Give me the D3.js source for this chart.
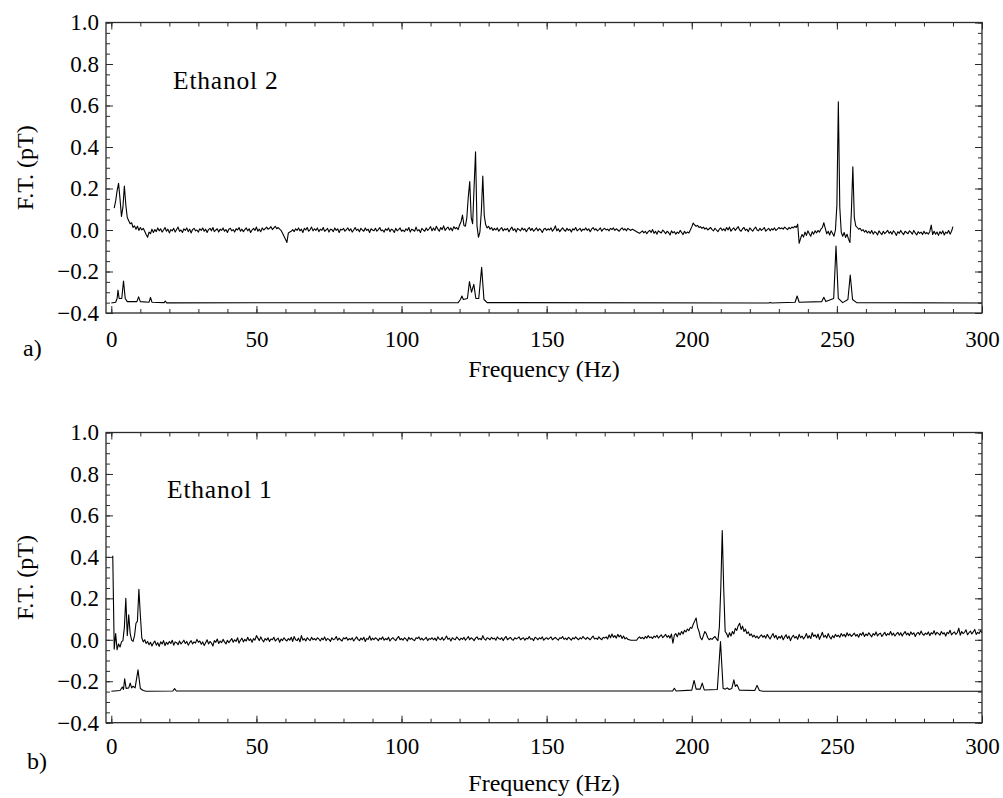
<!DOCTYPE html>
<html>
<head>
<meta charset="utf-8">
<script src="https://cdn.jsdelivr.net/npm/d3@7"></script>
<style>
  body { margin: 0; background: #fff; }
  svg { display: block; }
  text { font-family: "Liberation Serif", "Times New Roman", serif; fill: #000; }
</style>
</head>
<body>
<svg id="chart" width="1003" height="798"></svg>
<script>
// ---------------------------------------------------------------------------
// Spectra. Measured traces are in fT on a uniform frequency grid
// (start, 0.5 Hz step, one 10 Hz block per line); simulated traces are
// (frequency, pT) pairs.
// ---------------------------------------------------------------------------

// Ethanol 2, measured, 1.0 Hz .. 290.0 Hz
const ethanol2Start = 1.0;
const ethanol2Step = 0.5;
const ethanol2Measured_fT = [
  105, 140, 190, 225, 150, 65, 110, 212, 120, 60, 45, 30, 35, 12, 20, 4, 18, -2, 12, 0,
  8, -6, -22, -35, -10, -18, 4, -12, 2, -8, 10, -4, 6, -10, 0, 12, -6, 4, -14, 2,
  -4, 8, -10, 2, 14, -6, 0, -12, 6, -2, 10, -8, 4, -14, 2, 8, -4, 0, -10, 6,
  -2, 10, -6, 4, -12, 2, 8, -4, 12, -8, 0, 6, -10, 4, -2, 10, -6, 2, -12, 4,
  8, -4, 2, -10, 6, 0, 12, -6, 4, -8, 2, 10, -4, 6, -12, 0, 8, -2, 14, -6,
  4, -8, 10, 0, 6, 14, 4, 8, 16, 2, 10, 18, 6, 12, 4, -2, -16, -30, -44, -60,
  -14, -10, -6, 2, -8, 6, -2, 10, -4, 4, -12, 8, 0, 12, -6, 2, 14, -4, 6, -2,
  10, -8, 4, -2, 12, -6, 0, 8, -10, 4, 2, -8, 10, -2, 6, -12, 4, 0, 8, -6,
  2, 10, -4, 6, -10, 0, 12, -2, 4, -8, 8, 0, -6, 10, -2, 4, -12, 6, 0, -4,
  8, -6, 2, 12, -4, 0, -10, 6, -2, 10, -8, 4, 0, -12, 8, -4, 2, 10, -6, 0,
  -8, 6, -2, 12, -10, 4, 0, -6, 14, -4, 2, -12, 8, 0, -6, 10, -2, 6, 16, -4,
  10, -2, 18, 4, -6, 12, 2, 20, -2, 8, 14, 0, 10, -4, 16, 6, 12, 2, 24, 40,
  72, 22, 18, 60, 160, 233, 60, 30, 210, 377, 20, -35, -10, 90, 260, 70, 25, 10, 18, 4,
  12, -2, 8, 0, 10, -6, 4, 12, -4, 6, 0, 8, -8, 4, 14, -2, 6, -10, 8, 2,
  -4, 10, 0, 6, -8, 4, 12, -2, 8, -6, 2, 10, -4, 6, 0, -12, 4, 8, -2, 6,
  0, 10, -6, 4, 20, -4, 6, -8, 2, 10, 0, -6, 8, -2, 4, -10, 6, 0, 12, -4,
  2, 8, -6, 4, 0, 10, -2, 6, -8, 4, 12, 0, 6, -4, 2, 10, -6, 4, 8, 0,
  4, -4, 8, 2, 10, -2, 6, 0, -6, 4, 10, 0, 6, -4, 8, 2, -2, 4, 0, -4,
  -8, -12, -16, -10, -4, -14, -6, -18, -8, -2, -12, 2, -16, -6, -20, -4, -10, -14, 0, -8,
  -18, -6, -12, -24, -4, -14, -8, -20, -10, -16, -2, -12, -22, -6, -16, -10, -14, 0, 15, 34,
  24, 18, 22, 12, 16, 8, 14, 4, 10, 0, 6, 12, 2, -4, 8, 0, -8, 4, 10, -2,
  6, -4, 12, 0, 14, -6, 4, 10, -2, 8, 16, 0, -6, 6, 12, -2, 4, -8, 10, 2,
  -6, 6, 14, 0, -4, 8, -2, 4, 12, -6, 2, 8, -4, 6, 0, 10, -2, 4, 12, 6,
  10, 4, 14, 8, 2, 12, 6, 14, 10, 18, 12, 28, -64, -40, -22, -34, -10, -26, -4, -18,
  -30, -8, -20, -4, -14, -2, -10, 4, 12, 35, 8, -18, -6, -24, -4, -16, -30, 0, 120, 618,
  110, -10, -30, -12, -36, -20, -44, -60, 90, 305, 60, 20, 12, 4, 8, -4, 2, -10, -2, -14,
  -6, -16, -2, -20, -8, -12, -24, -4, -14, -22, -6, -18, -10, -2, -16, -8, -20, -4, -12, -26,
  -8, -16, -2, -14, -22, -6, -12, -18, -4, -10, -20, -2, -14, -24, -8, -16, -10, -22, -6, -18,
  -12, -20, -8, 24, -22, -6, -20, -10, -26, -8, -18, -4, -24, -10, -16, -2, -20, -6, 16
];

// Ethanol 2, simulated
const ethanol2SimFreq = [
  0, 1.5, 2.0, 2.3, 2.7, 3.6, 4.2, 4.8, 5.5, 8.8, 9.4, 10.0, 13.0, 13.5, 14.0, 18.2, 18.6, 19.0,
  119.5, 120.3, 120.8, 121.3, 122.7, 123.4, 124.1, 124.9, 125.6, 126.6, 127.6, 128.4, 129.5,
  226.5, 227.0, 227.5, 235.6, 236.3, 237.0, 244.8, 245.5, 246.2, 248.9, 249.7, 250.5, 252.0,
  253.8, 254.6, 255.4, 256.8, 300
];
const ethanol2SimValue = [
  -0.352, -0.348, -0.33, -0.29, -0.33, -0.33, -0.246, -0.33, -0.345, -0.345, -0.322, -0.345, -0.348, -0.325, -0.348, -0.35, -0.342, -0.351,
  -0.35, -0.335, -0.318, -0.335, -0.33, -0.249, -0.30, -0.262, -0.33, -0.33, -0.18, -0.335, -0.35,
  -0.352, -0.349, -0.352, -0.348, -0.318, -0.348, -0.345, -0.324, -0.345, -0.33, -0.077, -0.33, -0.35,
  -0.335, -0.217, -0.335, -0.35, -0.352
];

// Ethanol 1, measured, 0.5 Hz .. 300.0 Hz
const ethanol1Start = 0.5;
const ethanol1Step = 0.5;
const ethanol1Measured_fT = [
  405, -45, 30, -48, -20, -35, -10, -4, 60, 200, 20, 120, 30, -2, -8, 20, 80, 90, 244, 120,
  10, -10, 0, -18, -8, -24, -12, -30, -16, -6, -26, -14, -32, -10, -20, -4, -28, -12, -22, -8,
  -18, -2, -26, -10, -14, -24, -6, -20, -12, -2, -18, -8, -26, -14, -4, -20, -10, -16, 2, -12,
  -6, -22, -10, -28, -14, 0, -20, -8, -16, -30, -4, -12, 4, -18, -6, -14, 2, -10, -20, -2,
  -14, -4, 6, -12, 0, -8, 10, -16, -2, 8, -10, 2, -6, 12, -4, 4, -12, 6, -2, 20,
  8, -4, 14, 0, -10, 6, -2, 10, -8, 4, 0, 12, -6, 2, 8, -12, 4, -4, 10, 0,
  -6, 6, -2, 12, -8, 16, 0, -4, 8, -10, 20, -2, 6, -6, 10, 2, -4, 12, 0, 6,
  -2, 10, 4, -6, 8, 0, 14, -4, 6, 2, -8, 10, 0, 4, 16, -2, 8, 0, -6, 10,
  4, 12, -2, 6, 0, 10, -6, 4, 14, 2, -4, 8, 0, 12, -8, 6, 2, 18, -2, 8,
  0, 10, 4, -4, 8, 2, 14, -2, 6, 0, 12, -6, 4, 10, 2, -4, 8, 16, 0, 6,
  -2, 10, 4, -6, 12, 2, 8, 0, -4, 10, 6, 14, 0, 8, -2, 4, 12, -4, 6, 2,
  10, 0, 8, -4, 14, 4, 0, 12, -2, 6, 18, 2, 8, -6, 10, 4, 0, 14, 6, -2,
  8, 2, 12, -2, 6, 16, 0, 10, 4, -4, 8, 14, 2, 6, 0, 20, 4, -2, 10, 6,
  0, 12, 4, 8, -2, 14, 6, 2, 10, -4, 8, 16, 0, 6, 12, 2, -2, 10, 4, 8,
  14, 0, 6, 10, -2, 8, 4, 16, 2, 6, -4, 12, 8, 0, 10, 4, 14, -2, 6, 10,
  2, 8, 14, 0, 6, 12, 4, -2, 10, 6, 16, 2, 8, 0, 12, 6, -2, 10, 4, 14,
  6, 0, 10, 4, 16, 8, 2, 12, 6, 0, 10, 18, 4, 8, 2, 14, 6, 0, 12, 8,
  14, 4, 24, 10, 28, 12, 20, 8, 26, 14, 22, 6, 18, 4, 10, 2, 0, -2, -2, -2,
  -2, -2, 8, 14, 6, 12, 4, 16, 8, 20, 10, 14, 6, 18, 12, 22, 8, 16, 24, 10,
  18, 26, 12, 20, 8, 28, -16, 22, 30, 14, 34, 24, 40, 28, 46, 38, 52, 44, 60, 55,
  75, 90, 105, 60, 40, 10, 0, 20, 40, 30, 10, 0, 6, 2, 10, 16, 4, -4, 60, 250,
  527, 250, 40, 30, 12, 34, 18, 40, 28, 55, 45, 68, 80, 50, 66, 40, 52, 30, 38, 20,
  28, 14, 22, 10, 18, 6, 16, 24, 12, 20, 8, 26, 14, 4, 18, 30, 10, 22, 2, 16,
  8, 20, 0, 14, 24, 6, 18, -4, 12, 22, 8, 16, 2, 26, 10, 18, 4, 14, 30, 8,
  20, 6, 34, 16, 24, 10, 28, 2, 18, 36, 12, 22, 8, 30, 14, 4, 20, 10, 26, 16,
  22, 12, 30, 18, 26, 14, 34, 20, 28, 16, 24, 32, 18, 26, 12, 30, 22, 36, 16, 28,
  20, 34, 24, 14, 30, 22, 38, 18, 28, 32, 16, 26, 36, 20, 30, 24, 40, 22, 32, 18,
  28, 36, 22, 34, 18, 30, 40, 24, 32, 20, 38, 26, 34, 16, 30, 36, 24, 42, 28, 22,
  32, 26, 38, 20, 34, 28, 44, 24, 36, 30, 22, 40, 28, 34, 18, 36, 30, 46, 24, 32,
  38, 26, 34, 56, 22, 40, 30, 36, 48, 24, 34, 42, 28, 38, 50, 26, 36, 30, 44, 34
];

// Ethanol 1, simulated
const ethanol1SimFreq = [
  0, 3.0, 3.8, 4.2, 4.6, 5.1, 6.0, 6.5, 7.0, 7.5, 8.2, 9.2, 10.0, 11.0, 12.0, 21.2, 21.8, 22.4,
  193.4, 194.0, 194.6, 200.0, 200.8, 201.5, 202.9, 203.6, 204.3, 208.8, 209.9, 210.8, 211.6,
  212.2, 212.9, 213.8, 214.5, 215.0, 215.6, 216.4, 221.7, 222.5, 223.3, 224.5, 300
];
const ethanol1SimValue = [
  -0.248, -0.245, -0.228, -0.24, -0.188, -0.235, -0.232, -0.209, -0.232, -0.224, -0.232, -0.145, -0.235, -0.245, -0.248, -0.247, -0.236, -0.247,
  -0.247, -0.234, -0.247, -0.243, -0.196, -0.238, -0.238, -0.209, -0.242, -0.24, -0.008, -0.235, -0.238,
  -0.232, -0.24, -0.235, -0.193, -0.225, -0.217, -0.243, -0.245, -0.22, -0.245, -0.248, -0.248
];

// Axis ticks
const freqMajorTicks = [0, 50, 100, 150, 200, 250, 300];
const freqMinorTicks = d3.range(0, 301, 10);
const ftMajorTicks = [-0.4, -0.2, 0.0, 0.2, 0.4, 0.6, 0.8, 1.0];
const ftMinorTicks = d3.range(-0.4, 1.0001, 0.05);

// Panel labels
const sampleNames = ["Ethanol 2", "Ethanol 1"];
const panelTags = ["a)", "b)"];
const xTitle = "Frequency (Hz)";
const yTitle = "F.T. (pT)";

// ---------------------------------------------------------------------------
const svg = d3.select("#chart");
const frameLeft = 106, frameRight = 982;
const x = d3.scaleLinear().domain([-1.83, 300]).range([frameLeft, frameRight]);

const gridPoints = (start, step, vals) =>
  vals.map((v, i) => [start + i * step, v / 1000]);

const panels = [
  {
    top: 22.5, bottom: 313,
    measured: gridPoints(ethanol2Start, ethanol2Step, ethanol2Measured_fT),
    sim: ethanol2SimFreq.map((f, i) => [f, ethanol2SimValue[i]]),
    name: sampleNames[0], nameX: 173, nameY: 89,
    tag: panelTags[0], tagX: 23, tagY: 356, titleY: 377, labelY: 34
  },
  {
    top: 432.5, bottom: 722.7,
    measured: gridPoints(ethanol1Start, ethanol1Step, ethanol1Measured_fT),
    sim: ethanol1SimFreq.map((f, i) => [f, ethanol1SimValue[i]]),
    name: sampleNames[1], nameX: 167, nameY: 498,
    tag: panelTags[1], tagX: 27, tagY: 769, titleY: 791, labelY: 31
  }
];

const frameColor = "#2a2a2a";
const fmtFT = d3.format(".1f");

panels.forEach(p => {
  const y = d3.scaleLinear().domain([-0.4, 1.0]).range([p.bottom, p.top]);
  const g = svg.append("g");

  const styleAxis = sel => {
    sel.select(".domain").remove();
    sel.selectAll(".tick line").attr("stroke", frameColor).attr("stroke-width", 1);
  };

  // minor ticks, all four sides, pointing inward
  g.append("g").attr("transform", `translate(0,${p.bottom})`)
    .call(d3.axisBottom(x).tickValues(freqMinorTicks).tickSize(-4).tickFormat(""))
    .call(styleAxis);
  g.append("g").attr("transform", `translate(0,${p.top})`)
    .call(d3.axisTop(x).tickValues(freqMinorTicks).tickSize(-4).tickFormat(""))
    .call(styleAxis);
  g.append("g").attr("transform", `translate(${frameLeft},0)`)
    .call(d3.axisLeft(y).tickValues(ftMinorTicks).tickSize(-4).tickFormat(""))
    .call(styleAxis);
  g.append("g").attr("transform", `translate(${frameRight},0)`)
    .call(d3.axisRight(y).tickValues(ftMinorTicks).tickSize(-4).tickFormat(""))
    .call(styleAxis);

  // major ticks
  const xb = g.append("g").attr("transform", `translate(0,${p.bottom})`)
    .call(d3.axisBottom(x).tickValues(freqMajorTicks).tickSize(-7).tickFormat(d3.format("d")))
    .call(styleAxis);
  xb.selectAll("text").attr("y", p.labelY).attr("dy", null)
    .style("font-size", "23px").attr("fill", "#000");
  g.append("g").attr("transform", `translate(0,${p.top})`)
    .call(d3.axisTop(x).tickValues(freqMajorTicks).tickSize(-7).tickFormat(""))
    .call(styleAxis);
  const yl = g.append("g").attr("transform", `translate(${frameLeft},0)`)
    .call(d3.axisLeft(y).tickValues(ftMajorTicks).tickSize(-7).tickPadding(7).tickFormat(fmtFT))
    .call(styleAxis);
  yl.selectAll("text").style("font-size", "23px").attr("fill", "#000");
  g.append("g").attr("transform", `translate(${frameRight},0)`)
    .call(d3.axisRight(y).tickValues(ftMajorTicks).tickSize(-7).tickFormat(""))
    .call(styleAxis);

  // traces
  const line = d3.line().x(d => x(d[0])).y(d => y(d[1]));
  g.append("path").datum(p.sim)
    .attr("d", line).attr("fill", "none").attr("stroke", "#000").attr("stroke-width", 1.1)
    .attr("stroke-linejoin", "round");
  g.append("path").datum(p.measured)
    .attr("d", line).attr("fill", "none").attr("stroke", "#000").attr("stroke-width", 1.1)
    .attr("stroke-linejoin", "round");

  // frame
  g.append("rect")
    .attr("x", frameLeft).attr("y", p.top)
    .attr("width", frameRight - frameLeft).attr("height", p.bottom - p.top)
    .attr("fill", "none").attr("stroke", frameColor).attr("stroke-width", 1.3);

  // texts
  g.append("text").attr("x", p.nameX).attr("y", p.nameY)
    .style("font-size", "25.5px").style("letter-spacing", "0.8px").text(p.name);
  g.append("text").attr("x", (frameLeft + frameRight) / 2).attr("y", p.titleY)
    .attr("text-anchor", "middle").style("font-size", "24px").text(xTitle);
  g.append("text")
    .attr("transform", `translate(33,${(p.top + p.bottom) / 2}) rotate(-90)`)
    .attr("text-anchor", "middle").style("font-size", "24px").text(yTitle);
  g.append("text").attr("x", p.tagX).attr("y", p.tagY)
    .style("font-size", "24px").text(p.tag);
});
</script>
</body>
</html>
